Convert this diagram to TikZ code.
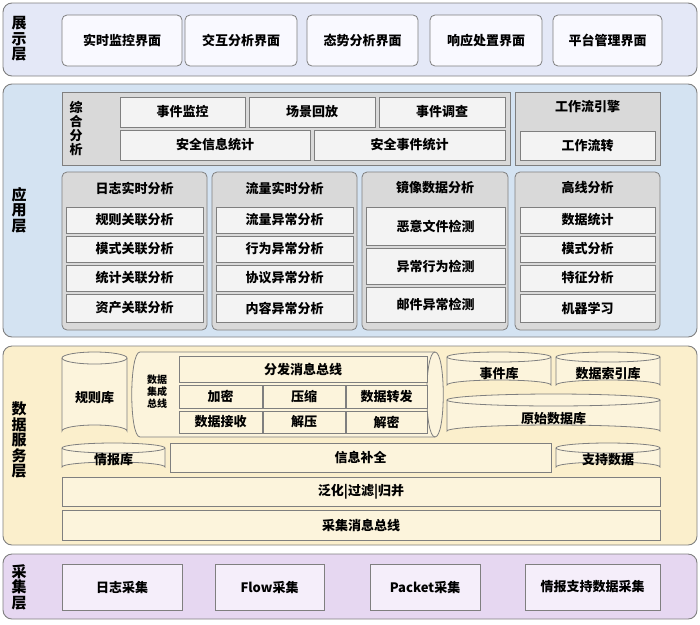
\documentclass[tikz,border=0pt]{standalone}
\usepackage{fontspec}
\setmainfont{Noto Sans CJK SC}
\usetikzlibrary{fit}
\definecolor{dispO}{HTML}{E4E8F7}
\definecolor{dispB}{HTML}{F9F9FF}
\definecolor{appO}{HTML}{D4E3F2}
\definecolor{grayB}{HTML}{D9D9D9}
\definecolor{whiteB}{HTML}{F3F3F3}
\definecolor{dataO}{HTML}{FBEFCC}
\definecolor{dataB}{HTML}{FCF4DC}
\definecolor{colO}{HTML}{E6D7F1}
\definecolor{colB}{HTML}{F5EEFA}
\definecolor{edge}{HTML}{7F7F7F}
\tikzset{
 layer/.style={draw=edge,line width=0.9pt,rounded corners=9pt,inner sep=0pt},
 bx/.style={draw=edge,line width=0.8pt,inner sep=0pt,font=\fontsize{13}{15}\selectfont\bfseries},
 rbx/.style={bx,rounded corners=5pt},
 vlab/.style={align=center,font=\fontsize{15}{15.5}\selectfont\bfseries,inner sep=0pt},
 cyl/.style={draw=edge,line width=0.8pt,fill=dataB},
 txt/.style={font=\fontsize{13}{15}\selectfont\bfseries,inner sep=0pt}
}
\newcommand\B[5][]{\node[#1,fit={(#3) (#4)}] (#2) {};\node[txt] at (#2.center) {#5};}
\newcommand\vcyl[6]{% name x1 y1 x2 y2 ry
 \path[cyl] (#2,#3+#6) arc[x radius={(#4-#2)/2},y radius=#6,start angle=180,end angle=360] -- (#4,#5-#6) arc[x radius={(#4-#2)/2},y radius=#6,start angle=0,end angle=-180] -- cycle;
 \draw[edge,line width=0.8pt] (#2,#3+#6) arc[x radius={(#4-#2)/2},y radius=#6,start angle=180,end angle=0];
 \coordinate (#1) at ({(#2+#4)/2},{(#3+#5)/2+#6/2});}
\begin{document}
\begin{tikzpicture}[x=1pt,y=-1pt]
\useasboundingbox (0,0) rectangle (700,624);
% display layer
\node[layer,fill=dispO,fit={(3,3) (697,76)}] (L1) {};
\node[vlab] (L1t) at (19,39) {展\\示\\层};
\B[rbx,fill=dispB]{d1}{62,15}{182,66}{实时监控界面}
\B[rbx,fill=dispB]{d2}{185,15}{297,66}{交互分析界面}
\B[rbx,fill=dispB]{d3}{307,15}{418,66}{态势分析界面}
\B[rbx,fill=dispB]{d4}{430,15}{542,66}{响应处置界面}
\B[rbx,fill=dispB]{d5}{553,15}{662,66}{平台管理界面}
% application layer
\node[layer,fill=appO,fit={(3,84) (697,337)}] (L2) {};
\node[vlab] (L2t) at (19,210) {应\\用\\层};
\node[bx,fill=grayB,fit={(62,92) (510,165)}] (zh) {};
\node[vlab,font=\fontsize{13}{14}\selectfont\bfseries] (zht) at (76,128) {综\\合\\分\\析};
\B[bx,fill=whiteB]{a1}{120,97}{245,127}{事件监控}
\B[bx,fill=whiteB]{a2}{249,97}{375,127}{场景回放}
\B[bx,fill=whiteB]{a3}{379,97}{505,127}{事件调查}
\B[bx,fill=whiteB]{a4}{120,130}{310,160}{安全信息统计}
\B[bx,fill=whiteB]{a5}{314,130}{505,160}{安全事件统计}
\node[bx,fill=grayB,fit={(515,92) (660,165)}] (wf) {};
\node[txt] (wft) at (587.5,107) {工作流引擎};
\B[bx,fill=whiteB]{wf1}{520,131}{655,160}{工作流转}
% columns
\node[rbx,fill=grayB,fit={(62,172) (207,330)}] (c1) {};
\node[txt] at (134.5,188) {日志实时分析};
\B[bx,fill=whiteB]{c11}{66,207}{203,233}{规则关联分析}
\B[bx,fill=whiteB]{c12}{66,236}{203,262}{模式关联分析}
\B[bx,fill=whiteB]{c13}{66,265}{203,291}{统计关联分析}
\B[bx,fill=whiteB]{c14}{66,294}{203,322}{资产关联分析}
\node[rbx,fill=grayB,fit={(212,172) (357,330)}] (c2) {};
\node[txt] at (284.5,188) {流量实时分析};
\B[bx,fill=whiteB]{c21}{216,207}{353,233}{流量异常分析}
\B[bx,fill=whiteB]{c22}{216,236}{353,262}{行为异常分析}
\B[bx,fill=whiteB]{c23}{216,265}{353,291}{协议异常分析}
\B[bx,fill=whiteB]{c24}{216,294}{353,322}{内容异常分析}
\node[rbx,fill=grayB,fit={(362,172) (508,330)}] (c3) {};
\node[txt] at (435,188) {镜像数据分析};
\B[bx,fill=whiteB]{c31}{366,207}{505,245}{恶意文件检测}
\B[bx,fill=whiteB]{c32}{366,248}{505,284}{异常行为检测}
\B[bx,fill=whiteB]{c33}{366,287}{505,322}{邮件异常检测}
\node[rbx,fill=grayB,fit={(515,172) (660,330)}] (c4) {};
\node[txt] at (587.5,188) {高线分析};
\B[bx,fill=whiteB]{c41}{520,207}{655,233}{数据统计}
\B[bx,fill=whiteB]{c42}{520,236}{655,262}{模式分析}
\B[bx,fill=whiteB]{c43}{520,265}{655,291}{特征分析}
\B[bx,fill=whiteB]{c44}{520,294}{655,322}{机器学习}
% data service layer
\node[layer,fill=dataO,fit={(3,346) (697,545)}] (L3) {};
\node[vlab] (L3t) at (19,440) {数\\据\\服\\务\\层};
\vcyl{gz}{62}{352}{127}{437}{6}
\node[txt] at (gz) {规则库};
% horizontal bus cylinder
\path[cyl] (140,352) -- (435,352) .. controls (446,352) and (446,437) .. (435,437) -- (140,437) .. controls (129,437) and (129,352) .. (140,352) -- cycle;
\draw[edge,line width=0.8pt] (435,352) .. controls (424,352) and (424,437) .. (435,437);
\coordinate (bus) at (287,394.5);
\node[align=center,font=\fontsize{10}{12}\selectfont\bfseries] (bust) at (157,392) {数据\\集成\\总线};
\B[bx,fill=dataB]{b1}{179,356}{427,382}{分发消息总线}
\B[bx,fill=dataB]{b2}{179,385}{262,408}{加密}
\B[bx,fill=dataB]{b3}{263,385}{345,408}{压缩}
\B[bx,fill=dataB]{b4}{346,385}{427,408}{数据转发}
\B[bx,fill=dataB]{b5}{179,411}{262,433}{数据接收}
\B[bx,fill=dataB]{b6}{263,411}{345,433}{解压}
\B[bx,fill=dataB]{b7}{346,411}{427,433}{解密}
\vcyl{sj}{447}{352}{551}{390}{5}
\node[txt] at (sj) {事件库};
\vcyl{sy}{556}{352}{660}{390}{5}
\node[txt] at (sy) {数据索引库};
\vcyl{ys}{447}{394}{660}{437}{6}
\node[txt] at (ys) {原始数据库};
\vcyl{qb}{62}{443}{165}{472}{5}
\node[txt] at (qb) {情报库};
\B[bx,fill=dataB]{xx}{170,443}{551,472}{信息补全}
\vcyl{zc}{556}{443}{660}{472}{5}
\node[txt] at (zc) {支持数据};
\B[bx,fill=dataB]{fh}{62,477}{660,506}{泛化|过滤|归并}
\B[bx,fill=dataB]{cj}{62,510}{660,540}{采集消息总线}
% collection layer
\node[layer,fill=colO,fit={(3,554) (697,619)}] (L4) {};
\node[vlab] (L4t) at (19,587) {采\\集\\层};
\B[bx,fill=colB]{e1}{62,564}{182,610}{日志采集}
\B[bx,fill=colB]{e2}{215,564}{324,610}{Flow采集}
\B[bx,fill=colB]{e3}{370,564}{480,610}{Packet采集}
\B[bx,fill=colB]{e4}{525,564}{660,610}{情报支持数据采集}
\end{tikzpicture}
\end{document}
